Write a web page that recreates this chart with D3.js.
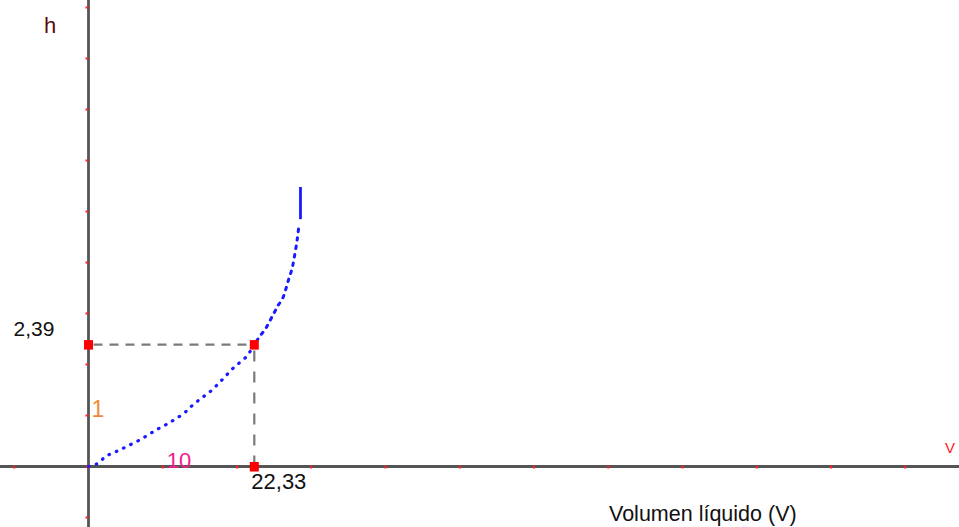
<!DOCTYPE html>
<html>
<head>
<meta charset="utf-8">
<script src="https://cdn.jsdelivr.net/npm/d3@7"></script>
<style>
  html, body { margin: 0; padding: 0; background: #fff; overflow: hidden; }
  svg { display: block; }
  text { font-family: "Liberation Sans", Arial, sans-serif; }
</style>
</head>
<body>
<svg id="chart" width="959" height="527"></svg>
<script>
// ---- data ----
const curveV = [0, 1.1, 2.2, 3.0, 4.0, 5.1, 6.5, 7.6, 8.7, 9.4, 10.3, 11.0, 11.7, 12.9, 13.7, 14.6, 15.4, 16.4, 18.0, 19.5, 21.3, 22.33, 23.1, 23.8, 24.4, 25.1, 25.5, 26.15, 26.6, 27.0, 27.4, 27.7, 28.1, 28.35];
const curveH = [0, 0.05, 0.18, 0.25, 0.31, 0.39, 0.49, 0.58, 0.68, 0.74, 0.81, 0.87, 0.93, 1.05, 1.16, 1.27, 1.36, 1.47, 1.70, 1.93, 2.16, 2.39, 2.56, 2.69, 2.85, 3.04, 3.15, 3.30, 3.49, 3.69, 3.87, 4.09, 4.44, 4.74];
const topSegV = [28.55, 28.55];
const topSegH = [4.85, 5.48];
const pointV = 22.33;
const pointH = 2.39;
const pointVLabel = "22,33";
const pointHLabel = "2,39";
const xTickValues = [-10, 0, 10, 20, 30, 40, 50, 60, 70, 80, 90, 100, 110];
const yTickValues = [-1, 0, 1, 2, 3, 4, 5, 6, 7, 8, 9];
const xUnitLabel = "10";
const yUnitLabel = "1";
const xAxisTitle = "Volumen líquido (V)";
const xAxisName = "V";
const yAxisName = "h";

// ---- scales ----
const W = 959, H = 527;
const x = d3.scaleLinear().domain([0, 100]).range([88.5, 831]);
const y = d3.scaleLinear().domain([0, 1]).range([466.5, 415.5]);

const svg = d3.select("#chart");

// axes lines
svg.append("line")
  .attr("x1", 0).attr("x2", W).attr("y1", y(0)).attr("y2", y(0))
  .attr("stroke", "#555").attr("stroke-width", 2.8);
svg.append("line")
  .attr("x1", x(0)).attr("x2", x(0)).attr("y1", 0).attr("y2", H)
  .attr("stroke", "#555").attr("stroke-width", 2.8);

// tick marks (small red marks)
svg.append("g").selectAll("line").data(xTickValues).join("line")
  .attr("x1", d => x(d)).attr("x2", d => x(d))
  .attr("y1", y(0) - 1).attr("y2", y(0) + 2)
  .attr("stroke", "#ff2020").attr("stroke-width", 2);
svg.append("g").selectAll("line").data(yTickValues).join("line")
  .attr("x1", x(0) - 3).attr("x2", x(0))
  .attr("y1", d => y(d)).attr("y2", d => y(d))
  .attr("stroke", "#ff2020").attr("stroke-width", 2);

// dashed guide lines
svg.append("line")
  .attr("x1", x(0)).attr("x2", x(pointV)).attr("y1", y(pointH)).attr("y2", y(pointH))
  .attr("stroke", "#7a7a7a").attr("stroke-width", 2.2)
  .attr("stroke-dasharray", "9 7").attr("stroke-dashoffset", -5);
svg.append("line")
  .attr("x1", x(pointV)).attr("x2", x(pointV)).attr("y1", y(pointH)).attr("y2", y(0))
  .attr("stroke", "#7a7a7a").attr("stroke-width", 2.2)
  .attr("stroke-dasharray", "11 10").attr("stroke-dashoffset", -6);

// curve: lower part (dots) and upper part (short dashes)
const pts = curveV.map((v, i) => [v, curveH[i]]);
const split = curveV.indexOf(pointV);
const line = d3.line().x(d => x(d[0])).y(d => y(d[1])).curve(d3.curveCatmullRom);
svg.append("path")
  .attr("d", line(pts.slice(0, split + 1)))
  .attr("fill", "none").attr("stroke", "#1a1aff").attr("stroke-width", 3.2)
  .attr("stroke-linecap", "round")
  .attr("stroke-dasharray", "0.6 7.4");
svg.append("path")
  .attr("d", line(pts.slice(split)))
  .attr("fill", "none").attr("stroke", "#1a1aff").attr("stroke-width", 3)
  .attr("stroke-linecap", "round")
  .attr("stroke-dasharray", "2.5 6").attr("stroke-dashoffset", -4);
const segPts = topSegV.map((v, i) => [v, topSegH[i]]);
svg.append("path")
  .attr("d", d3.line().x(d => x(d[0])).y(d => y(d[1]))(segPts))
  .attr("fill", "none").attr("stroke", "#1a1aff").attr("stroke-width", 2.8);

// red squares
const sq = [[0, pointH], [pointV, pointH], [pointV, 0]];
svg.append("g").selectAll("rect").data(sq).join("rect")
  .attr("x", d => x(d[0]) - 4.5).attr("y", d => y(d[1]) - 4.5)
  .attr("width", 9).attr("height", 9.5).attr("fill", "#ff0000");

// labels
svg.append("text").attr("x", 44).attr("y", 33).attr("font-size", 22)
  .attr("fill", "#5a0a0a").text(yAxisName);
svg.append("text").attr("x", x(0) - 75).attr("y", y(pointH) - 9).attr("font-size", 21)
  .attr("fill", "#111").text(pointHLabel);
svg.append("text").attr("x", x(pointV) - 3).attr("y", y(0) + 22).attr("font-size", 22)
  .attr("fill", "#111").text(pointVLabel);
svg.append("text").attr("x", x(0) + 3).attr("y", y(1) + 1).attr("font-size", 23)
  .attr("fill", "#f08a3a").text(yUnitLabel);
svg.append("text").attr("x", x(10) + 4).attr("y", y(0) + 1).attr("font-size", 22)
  .attr("fill", "#f0208a").text(xUnitLabel);
svg.append("text").attr("x", 609).attr("y", 521).attr("font-size", 21.5)
  .attr("fill", "#111").text(xAxisTitle);
svg.append("text").attr("x", 945).attr("y", 453).attr("font-size", 15)
  .attr("fill", "#ff2020").text(xAxisName);
</script>
</body>
</html>
